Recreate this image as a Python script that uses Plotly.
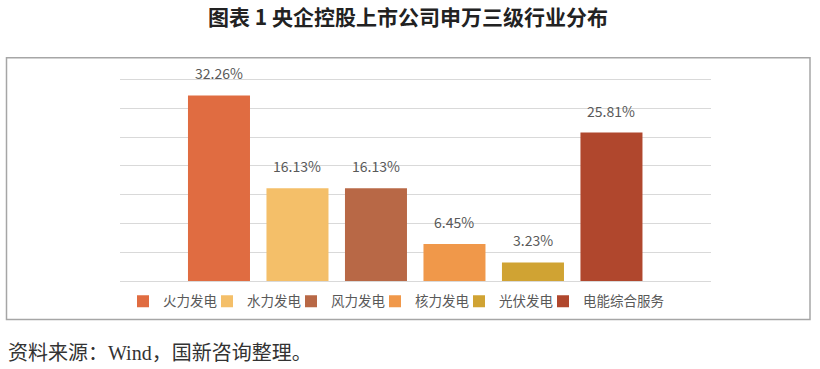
import plotly.graph_objects as go

categories = ["火力发电", "水力发电", "风力发电", "核力发电", "光伏发电", "电能综合服务"]
values = [32.26, 16.13, 16.13, 6.45, 3.23, 25.81]
colors = ["#E06C41", "#F4BF69", "#B86846", "#F0984A", "#D0A333", "#B0472D"]
title = "<b>图表 1 央企控股上市公司申万三级行业分布</b>"
source = "资料来源：Wind，国新咨询整理。"

W, H = 820, 369
L, R = 120, 711
YMAX = 35.3
T, B = 80 - (YMAX - 35) * 5.735, 280.7
pw, ph = R - L, B - T

fig = go.Figure()
for i, (c, v, col) in enumerate(zip(categories, values, colors)):
    fig.add_trace(go.Bar(x=[c], y=[v], name=c, marker=dict(color=col, line=dict(width=0)),
                         hoverinfo="skip",
                         legendwidth=(39 if i < len(categories) - 1 else 86)))
    fig.add_annotation(x=c, y=v, text=f"{v:.2f}%", showarrow=False, yanchor="bottom",
                       yshift=10, font=dict(family="Noto Sans CJK SC", size=14, color="#595959"))

def px2x(p):
    return (p - L) / pw

def px2y(p):
    return (B - p) / ph

fig.add_shape(type="rect", xref="paper", yref="paper",
              x0=px2x(6.5), x1=px2x(810), y0=px2y(319), y1=px2y(58),
              line=dict(color="#A6A6A6", width=1.5), fillcolor="rgba(0,0,0,0)", layer="below")

fig.add_annotation(xref="paper", yref="paper", x=px2x(408), y=px2y(16.5), text=title,
                   showarrow=False, xanchor="center", yanchor="middle",
                   font=dict(family="Noto Sans CJK SC", size=21, color="#222222"))
fig.add_annotation(xref="paper", yref="paper", x=px2x(6), y=px2y(352), text=source,
                   showarrow=False, xanchor="left", yanchor="middle",
                   font=dict(family="Liberation Serif, Noto Sans CJK SC", size=20, color="#333333"))

fig.update_layout(
    width=W, height=H,
    margin=dict(l=L, r=W - R, t=T, b=H - B, pad=0, autoexpand=False),
    paper_bgcolor="white", plot_bgcolor="white",
    barmode="overlay", bargap=0.21,
    showlegend=True,
    legend=dict(orientation="h", x=px2x(123), xanchor="left", y=px2y(301), yanchor="middle",
                font=dict(family="Noto Sans CJK SC", size=13.5, color="#595959"),
                itemwidth=30, tracegroupgap=0, bgcolor="rgba(0,0,0,0)"),
    xaxis=dict(showticklabels=False, showgrid=False, zeroline=False, showline=False,
               range=[-1.261, 6.268], fixedrange=True),
    yaxis=dict(range=[0, YMAX], tick0=0, dtick=5, showticklabels=False, showgrid=True,
               gridcolor="#D9D9D9", gridwidth=1, zeroline=True, zerolinecolor="#D9D9D9",
               zerolinewidth=1, showline=False, fixedrange=True),
)

fig.write_html("out.html", config={"displayModeBar": False},
               post_script="document.body.style.margin='0';document.body.style.overflow='hidden';")
